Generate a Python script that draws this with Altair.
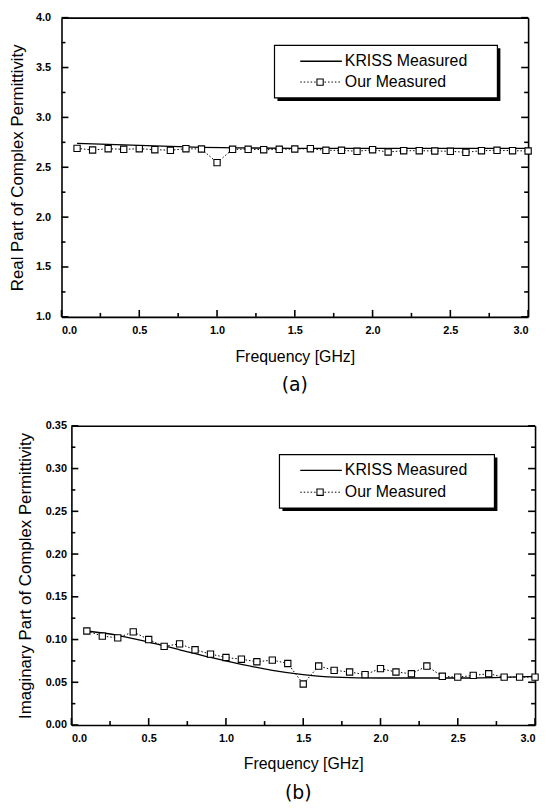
import altair as alt
import pandas as pd

# ---------------- data ----------------
freq = [0.1, 0.2, 0.3, 0.4, 0.5, 0.6, 0.7, 0.8, 0.9, 1.0,
        1.1, 1.2, 1.3, 1.4, 1.5, 1.6, 1.7, 1.8, 1.9, 2.0,
        2.1, 2.2, 2.3, 2.4, 2.5, 2.6, 2.7, 2.8, 2.9, 3.0]
x_major = [0.0, 0.5, 1.0, 1.5, 2.0, 2.5, 3.0]
x_minor = [0.25, 0.75, 1.25, 1.75, 2.25, 2.75]

real_kriss_freq = [0.1, 0.3, 0.5, 0.7, 0.9, 1.1, 1.5, 2.0, 2.5, 3.0]
real_kriss = [2.74, 2.73, 2.72, 2.71, 2.70, 2.695, 2.69, 2.69, 2.69, 2.69]
real_ours = [2.69, 2.673, 2.686, 2.68, 2.686, 2.676, 2.67, 2.686, 2.683, 2.547,
             2.68, 2.68, 2.676, 2.68, 2.683, 2.686, 2.67, 2.67, 2.66, 2.676,
             2.653, 2.666, 2.666, 2.663, 2.66, 2.65, 2.666, 2.67, 2.666, 2.663]
real_major = [1.0, 1.5, 2.0, 2.5, 3.0, 3.5, 4.0]
real_minor = [1.25, 1.75, 2.25, 2.75, 3.25, 3.75]

imag_kriss_freq = [0.1, 0.3, 0.5, 0.7, 0.9, 1.1, 1.3, 1.5, 1.7, 2.0, 2.5, 3.0]
imag_kriss = [0.110, 0.105, 0.097, 0.088, 0.079, 0.071, 0.064, 0.059, 0.056, 0.055, 0.055, 0.057]
imag_ours = [0.110, 0.104, 0.102, 0.109, 0.100, 0.092, 0.095, 0.088, 0.083, 0.079,
             0.077, 0.074, 0.076, 0.072, 0.048, 0.069, 0.064, 0.062, 0.059, 0.066,
             0.062, 0.060, 0.069, 0.057, 0.056, 0.058, 0.060, 0.056, 0.056, 0.056]
imag_major = [0.00, 0.05, 0.10, 0.15, 0.20, 0.25, 0.30, 0.35]
imag_minor = [0.025, 0.075, 0.125, 0.175, 0.225, 0.275, 0.325]

series_names = ["KRISS Measured", "Our Measured"]

FONT = "Liberation Sans"


def panel(kf, kv, ov, ydom, ymaj, ymin, yfmt, ytitle, W, H, xoff,
          ylabpad, ytitlepad, xlabpad, xtitlepad, legend, caption, capoffset):
    xs = alt.Scale(domain=[0, 3], range=[xoff, W], nice=False, zero=False)
    ys = alt.Scale(domain=ydom, nice=False, zero=False)
    dk = pd.DataFrame({"f": kf, "v": kv})
    do = pd.DataFrame({"f": freq, "v": ov})
    one = pd.DataFrame({"a": [0]})

    def X(axis, field="f:Q"):
        return alt.X(field, scale=xs, axis=axis)

    def Y(axis, field="v:Q"):
        return alt.Y(field, scale=ys, axis=axis)

    frame = dict(labels=False, ticks=False, grid=False, title=None,
                 domain=True, domainColor="black", domainWidth=1.6)

    x_lab = alt.Axis(orient="bottom", values=x_major, format=".1f",
                     labelFont=FONT, labelFontWeight="bold", labelFontSize=11,
                     labelColor="black", ticks=False, tickSize=0,
                     labelPadding=xlabpad, domain=True, domainColor="black",
                     domainWidth=1.6, grid=False, title="Frequency [GHz]",
                     titleFont=FONT, titleFontSize=16, titleFontWeight="normal",
                     titleColor="black", titlePadding=xtitlepad)
    x_top = alt.Axis(orient="top", **frame)

    y_lab = alt.Axis(orient="left", offset=-xoff, values=ymaj, format=yfmt,
                     labelFont=FONT, labelFontWeight="bold", labelFontSize=11,
                     labelColor="black", ticks=False, tickSize=0,
                     labelPadding=ylabpad, domain=True, domainColor="black",
                     domainWidth=1.6, grid=False, title=ytitle,
                     titleFont=FONT, titleFontSize=17, titleFontWeight="normal",
                     titleColor="black", titlePadding=ytitlepad)
    y_right = alt.Axis(orient="right", **frame)

    kriss = alt.Chart(dk).mark_line(color="black", strokeWidth=1.3,
                                    interpolate="monotone").encode(x=X(x_lab), y=Y(y_lab))
    ours_line = alt.Chart(do).mark_line(color="black", strokeWidth=1,
                                        strokeDash=[1.5, 2]).encode(x=X(x_top), y=Y(y_right))
    ours_pts = alt.Chart(do).mark_point(shape="square", size=40, filled=True,
                                        fill="white", stroke="black", strokeWidth=1.1,
                                        opacity=1).encode(x=X(None), y=Y(None))

    # inward tick marks: tick value on one scale, frame edge on the other
    def xticks(vals, length):
        df = pd.DataFrame({"t": vals, "e": [ydom[0]] * len(vals)})
        return alt.Chart(df).mark_tick(
            orient="vertical", color="black", size=length, thickness=1.6,
            opacity=1, yOffset=-length / 2).encode(x=X(None, "t:Q"), y=Y(None, "e:Q"))

    def yticks(vals, edge, length):
        df = pd.DataFrame({"t": vals, "e": [edge] * len(vals)})
        return alt.Chart(df).mark_tick(
            orient="horizontal", color="black", size=abs(length), thickness=1.6,
            opacity=1, xOffset=length / 2).encode(y=Y(None, "t:Q"), x=X(None, "e:Q"))

    tick_layers = [xticks(x_major, 7), xticks(x_minor, 4),
                   yticks(ymaj, 0.0, 7), yticks(ymin, 0.0, 4),
                   yticks(ymaj, 3.0, -7), yticks(ymin, 3.0, -4)]

    bx1, by1, bx2, by2, lx1, lx2, sx, tx, r1, r2 = legend
    shadow = alt.Chart(one).mark_rect(color="black").encode(
        x=alt.value(bx1 + 3), x2=alt.value(bx2 + 3), y=alt.value(by1 + 3), y2=alt.value(by2 + 3))
    box = alt.Chart(one).mark_rect(fill="white", stroke="black", strokeWidth=1.2).encode(
        x=alt.value(bx1), x2=alt.value(bx2), y=alt.value(by1), y2=alt.value(by2))
    lg1 = alt.Chart(one).mark_rule(color="black", strokeWidth=1.3).encode(
        x=alt.value(lx1), x2=alt.value(lx2), y=alt.value(r1))
    lg2 = alt.Chart(one).mark_rule(color="black", strokeWidth=1, strokeDash=[1.5, 2]).encode(
        x=alt.value(lx1), x2=alt.value(lx2), y=alt.value(r2))
    lgs = alt.Chart(one).mark_point(shape="square", size=40, filled=True, fill="white",
                                    stroke="black", strokeWidth=1.1, opacity=1).encode(
        x=alt.value(sx), y=alt.value(r2))
    txt1 = alt.Chart(one).mark_text(align="left", baseline="middle", font=FONT,
                                    fontSize=16, color="black").encode(
        x=alt.value(tx), y=alt.value(r1), text=alt.value(series_names[0]))
    txt2 = alt.Chart(one).mark_text(align="left", baseline="middle", font=FONT,
                                    fontSize=16, color="black").encode(
        x=alt.value(tx), y=alt.value(r2), text=alt.value(series_names[1]))

    return alt.layer(kriss, ours_line, *tick_layers, ours_pts,
                     shadow, box, lg1, lg2, lgs, txt1, txt2).resolve_axis(
        x="independent", y="independent").properties(
        width=W, height=H,
        title=alt.TitleParams(caption, orient="bottom", font="DejaVu Sans",
                              fontSize=19, fontWeight="normal", color="black",
                              offset=capoffset))


top = panel(real_kriss_freq, real_kriss, real_ours, [1.0, 4.0], real_major, real_minor,
            ".1f", "Real Part of Complex Permittivity", 471, 302, 0,
            11, 9, 8, 13,
            (215, 28, 440, 81, 241, 283, 261, 286, 44, 65), "(a)", 12)
bottom = panel(imag_kriss_freq, imag_kriss, imag_ours, [0.0, 0.35], imag_major, imag_minor,
               ".2f", "Imaginary Part of Complex Permittivity", 478, 302, 10,
               5, 11, 8, 12,
               (220, 29, 437, 83, 241, 283, 261, 286, 45, 67), "(b)", 13)

chart = alt.vconcat(top, bottom, spacing=25).properties(
    padding=0, background="white").configure_view(strokeWidth=0)

chart.save("out.html", embed_options={"renderer": "svg", "actions": False})
